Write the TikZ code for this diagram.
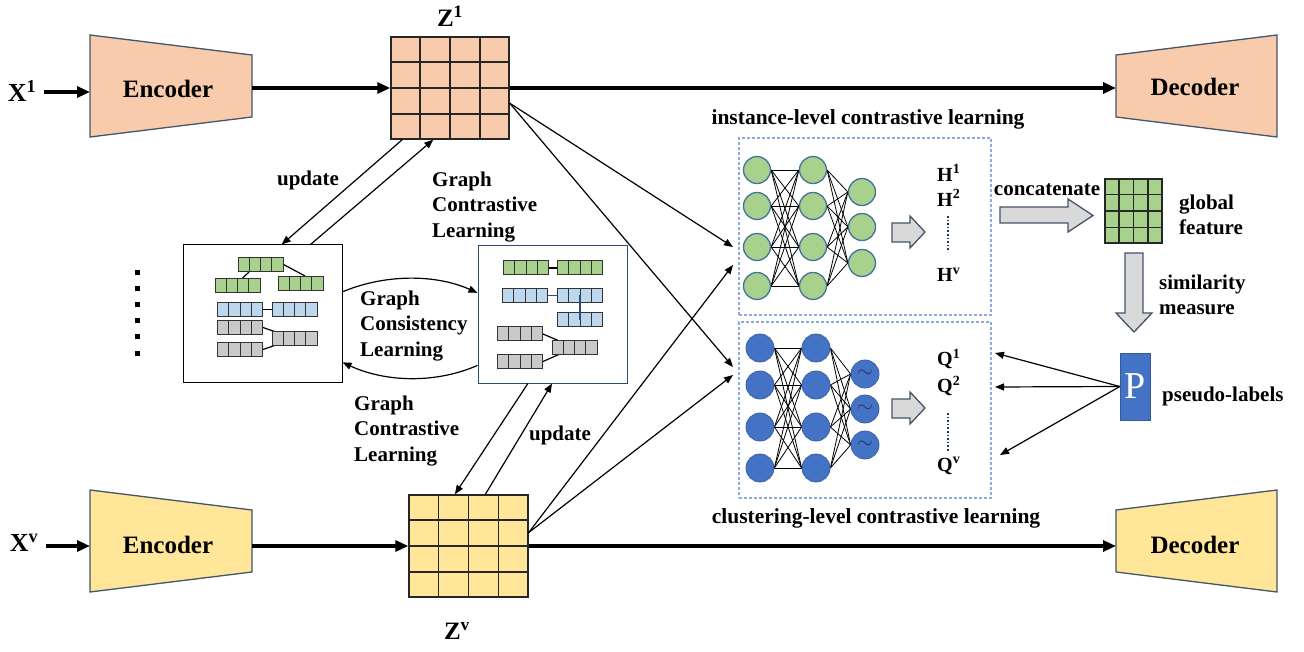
\documentclass[tikz,border=0pt]{standalone}
\usepackage{fontspec}
\setmainfont{Liberation Serif}
\usetikzlibrary{arrows.meta,calc,backgrounds}

\definecolor{peach}{HTML}{F8CBAD}
\definecolor{sand}{HTML}{FFE699}
\definecolor{leaf}{HTML}{A9D18E}
\definecolor{sky}{HTML}{BDD7EE}
\definecolor{ash}{HTML}{C9C9C9}
\definecolor{royal}{HTML}{4472C4}
\definecolor{navy}{HTML}{2F4A7A}
\definecolor{slate}{HTML}{44546A}
\definecolor{dashblue}{HTML}{8FAADC}
\definecolor{arrowgray}{HTML}{D9D9D9}
\definecolor{ringblue}{HTML}{41719C}
\definecolor{inkblue}{HTML}{1F3864}

% grid lines of a 4x4 feature matrix drawn inside a named node
\newcommand\cellgrid[1]{%
  \foreach \i in {1,2,3} {
    \draw[gridline] ($(#1.north west)!\i/4!(#1.north east)$) -- ($(#1.south west)!\i/4!(#1.south east)$);
    \draw[gridline] ($(#1.north west)!\i/4!(#1.south west)$) -- ($(#1.north east)!\i/4!(#1.south east)$);
  }}

\tikzset{
  lbl/.style={font=\bfseries\fontsize{21}{25.5}\selectfont, inner sep=0pt, align=left},
  biglbl/.style={font=\bfseries\fontsize{25}{30}\selectfont, inner sep=0pt},
  hqlbl/.style={font=\bfseries\fontsize{20}{22}\selectfont, inner sep=0pt, anchor=west},
  fatarrow/.style={line width=3.5pt, -{Triangle[length=13pt,width=11pt]}},
  thinarrow/.style={line width=1.2pt, -{Triangle[length=9pt,width=7pt]}},
  coder/.style={draw=slate, line width=1.3pt},
  featgrid/.style={draw=black!85, line width=1.4pt, inner sep=0pt},
  gridline/.style={draw=black!85, line width=1.4pt},
  cellbox/.style={draw=black!80, line width=1pt, inner sep=0pt, minimum width=45pt, minimum height=14pt},
  graphbox/.style={draw, line width=1pt, inner sep=0pt},
  neuG/.style={circle, draw=ringblue, line width=1.3pt, fill=leaf, minimum size=27pt, inner sep=0pt},
  neuB/.style={circle, draw=royal!85!black, line width=0.8pt, fill=royal, minimum size=28pt, inner sep=0pt},
  wire/.style={line width=0.8pt},
  dashbox/.style={draw=dashblue, dash pattern=on 3pt off 2pt, line width=1.2pt, inner sep=0pt},
  blockarrow/.style={draw=slate, fill=arrowgray, line width=1.3pt, line join=miter},
  cellbar/.pic={
    \node[cellbox, fill=#1] (-b) at (0,0) {};
    \foreach \k in {-11.25,0,11.25} \draw[line width=1pt, draw=black!80] (\k,-7) -- (\k,7);
  }
}

\begin{document}
\begin{tikzpicture}[x=1pt,y=-1pt]
\useasboundingbox (0,0) rectangle (1304,652);

% ---------- encoders and decoders ----------
\draw[coder, fill=peach] (90,35) -- (252,55) -- (252,117) -- (90,137) -- cycle;
\draw[coder, fill=peach] (1116,55) -- (1277,35) -- (1277,137) -- (1116,117) -- cycle;
\draw[coder, fill=sand] (90,490) -- (252,510) -- (252,572) -- (90,592) -- cycle;
\draw[coder, fill=sand] (1116,510) -- (1277,490) -- (1277,592) -- (1116,572) -- cycle;
\node[biglbl] (enc1) at (168,89) {Encoder};
\node[biglbl] (dec1) at (1195,87) {Decoder};
\node[biglbl] (enc2) at (168,545) {Encoder};
\node[biglbl] (dec2) at (1195,545) {Decoder};
\coordinate (e1in) at (90,92);
\coordinate (e1out) at (252,88);
\coordinate (d1in) at (1116,88);
\coordinate (e2in) at (90,546);
\coordinate (e2out) at (252,546);
\coordinate (d2in) at (1116,546);

\node[font=\bfseries\fontsize{26}{30}\selectfont, inner sep=0pt] (x1) at (22,91) {X\textsuperscript{1}};
\node[font=\bfseries\fontsize{26}{30}\selectfont, inner sep=0pt] (xv) at (24,543) {X\textsuperscript{v}};

% ---------- latent feature matrices ----------
\node[featgrid, fill=peach, minimum width=118pt, minimum height=102pt] (z1) at (450,88) {};
\cellgrid{z1}
\node[featgrid, fill=sand, minimum width=119pt, minimum height=102pt] (zv) at (468.5,546) {};
\cellgrid{zv}
\node[biglbl] (z1lbl) at (450,16) {Z\textsuperscript{1}};
\node[biglbl] (zvlbl) at (457,631) {Z\textsuperscript{v}};

\draw[fatarrow] (x1.east) ++(8,1) -- (e1in);
\draw[fatarrow] (xv.east) ++(8,3) -- (e2in);
\draw[fatarrow] (e1out) -- (z1.west);
\draw[fatarrow] (z1.east) -- (d1in);
\draw[fatarrow] (e2out) -- (zv.west);
\draw[fatarrow] (zv.east) -- (d2in);

% ---------- view graphs ----------
\node[graphbox, minimum width=159pt, minimum height=137pt] (gA) at (262.5,313.5) {};
\node[graphbox, draw=navy, minimum width=149pt, minimum height=137pt] (gB) at (552.5,314.5) {};

\pic (ga1) at (260.5,264.5) {cellbar=leaf};
\pic (ga2) at (237.5,286) {cellbar=leaf};
\pic (ga3) at (300.5,283.5) {cellbar=leaf};
\pic (ba1) at (240,309.5) {cellbar=sky};
\pic (ba2) at (294.5,309.5) {cellbar=sky};
\pic (ca1) at (240,327.5) {cellbar=ash};
\pic (ca2) at (294.5,338.5) {cellbar=ash};
\pic (ca3) at (240,349.5) {cellbar=ash};

\pic (gb1) at (526,268) {cellbar=leaf};
\pic (gb2) at (580,268) {cellbar=leaf};
\pic (bb1) at (525,295.5) {cellbar=sky};
\pic (bb2) at (580,295.5) {cellbar=sky};
\pic (bb3) at (580,320) {cellbar=sky};
\pic (cb1) at (520,334) {cellbar=ash};
\pic (cb2) at (574.5,347.5) {cellbar=ash};
\pic (cb3) at (520,361.5) {cellbar=ash};
\draw[navy, line width=1.2pt] (bb2-b.center) -- (bb3-b.center);

\begin{scope}[on background layer]
  \draw[line width=1.2pt] ($(ga1-b.south west)!0.25!(ga1-b.south east)$) -- ($(ga2-b.north west)!0.6!(ga2-b.north east)$);
  \draw[line width=1.2pt] (ga1-b.east) -- ($(ga3-b.north west)!0.6!(ga3-b.north east)$);
  \draw[line width=1.2pt] (ba1-b.east) -- (ba2-b.west);
  \draw[line width=1.2pt] (ca1-b.east) -- (ca2-b.center);
  \draw[line width=1.2pt] (ca3-b.east) -- (ca2-b.center);
  \draw[line width=1.2pt] (gb1-b.east) -- (gb2-b.west);
  \draw[navy, line width=1.2pt] (bb1-b.east) -- (bb2-b.west);
  \draw[line width=1.2pt] (cb1-b.east) -- (cb2-b.center);
  \draw[line width=1.2pt] (cb3-b.east) -- (cb2-b.center);
\end{scope}

% further views
\foreach \y in {273,289,305,321,337,353}
  \fill (135,\y-2.5) rectangle (140,\y+2.5);

% graph consistency learning
\draw[thinarrow] ($(gA.north east)!0.343!(gA.south east)$) .. controls (385,274) and (435,274) .. ($(gB.north west)!0.343!(gB.south west)$);
\draw[thinarrow] ($(gB.north west)!0.869!(gB.south west)$) .. controls (435,384) and (385,382) .. ($(gA.north east)!0.854!(gA.south east)$);
\node[lbl, anchor=west] (gcl) at (360,326) {Graph\\Consistency\\Learning};

% updates and graph contrastive learning
\draw[thinarrow] ($(z1.south west)!0.1!(z1.south east)$) -- ($(gA.north west)!0.62!(gA.north east)$);
\draw[thinarrow] ($(gA.north west)!0.8!(gA.north east)$) -- ($(z1.south west)!0.36!(z1.south east)$);
\draw[thinarrow] ($(gB.south west)!0.336!(gB.south east)$) -- ($(zv.north west)!0.387!(zv.north east)$);
\draw[thinarrow] ($(zv.north west)!0.64!(zv.north east)$) -- ($(gB.south west)!0.497!(gB.south east)$);
\node[lbl] (upd1) at (308,180) {update};
\node[lbl] (upd2) at (560,435) {update};
\node[lbl, anchor=west] (gcl1) at (432,207) {Graph\\Contrastive\\Learning};
\node[lbl, anchor=west] (gcl2) at (354,431) {Graph\\Contrastive\\Learning};

% ---------- contrastive heads ----------
\node[dashbox, minimum width=252pt, minimum height=177pt] (inst) at (865,226.5) {};
\node[dashbox, minimum width=252pt, minimum height=176pt] (clus) at (865,410) {};
\node[lbl, font=\bfseries\fontsize{21.5}{24}\selectfont] (insttitle) at (868,119) {instance-level contrastive learning};
\node[lbl, font=\bfseries\fontsize{21.5}{24}\selectfont] (clustitle) at (876,518) {clustering-level contrastive learning};

\foreach \n/\y in {1/170,2/206,3/247,4/286} {
  \node[neuG] (ga\n) at (757,\y) {};
  \node[neuG] (gb\n) at (813,\y) {};
}
\foreach \n/\y in {1/192,2/227,3/263}
  \node[neuG] (gc\n) at (862,\y) {};
\foreach \n/\y in {1/348,2/385,3/427,4/468} {
  \node[neuB] (ba\n) at (760,\y) {};
  \node[neuB] (bb\n) at (816,\y) {};
}
\foreach \n/\y in {1/374,2/409,3/445}
  \node[neuB, text=inkblue, font=\fontsize{20}{20}\selectfont] (bc\n) at (865,\y) {$\sim$};

\begin{scope}[on background layer]
  \foreach \i in {1,...,4} {
    \foreach \j in {1,...,4} {
      \draw[wire] (ga\i.east) -- (gb\j.west);
      \draw[wire] (ba\i.east) -- (bb\j.west);
    }
    \foreach \j in {1,2,3} {
      \draw[wire] (gb\i.east) -- (gc\j.west);
      \draw[wire] (bb\i.east) -- (bc\j.west);
    }
  }
\end{scope}

\draw[blockarrow] (892,223) -- (910,223) -- (910,216) -- (925,232) -- (910,248) -- (910,242) -- (892,242) -- cycle;
\draw[blockarrow] (892,399) -- (910,399) -- (910,392) -- (925,408) -- (910,424) -- (910,418) -- (892,418) -- cycle;

\node[hqlbl] (h1) at (937,173) {H\textsuperscript{1}};
\node[hqlbl] (h2) at (937,198) {H\textsuperscript{2}};
\node[hqlbl] (hv) at (937,275) {H\textsuperscript{v}};
\draw[inkblue, dotted, line width=1.6pt] (948,216) -- (948,252);
\node[hqlbl] (q1) at (937,359) {Q\textsuperscript{1}};
\node[hqlbl] (q2) at (937,386) {Q\textsuperscript{2}};
\node[hqlbl] (qv) at (937,466) {Q\textsuperscript{v}};
\draw[inkblue, dotted, line width=1.6pt] (948,413) -- (948,452);

% fused latent features into both heads
\coordinate (ia) at (733,247);
\coordinate (ib) at (733,367);
\coordinate (ic) at (733,265);
\coordinate (id) at (733,375);
\draw[thinarrow] ($(z1.north east)!0.647!(z1.south east)$) -- (ia);
\draw[thinarrow] ($(z1.north east)!0.647!(z1.south east)$) -- (ib);
\draw[thinarrow] ($(zv.north east)!0.37!(zv.south east)$) -- (ic);
\draw[thinarrow] ($(zv.north east)!0.37!(zv.south east)$) -- (id);

% ---------- global feature and pseudo-labels ----------
\draw[blockarrow] (1000,207) -- (1068,207) -- (1068,199) -- (1093,215.5) -- (1068,232) -- (1068,223) -- (1000,223) -- cycle;
\node[lbl] (concat) at (1047,190) {concatenate};
\node[featgrid, fill=leaf, minimum width=57pt, minimum height=64pt] (gf) at (1133.5,211) {};
\cellgrid{gf}
\node[lbl, anchor=west] (gflbl) at (1179,215) {global\\feature};
\draw[blockarrow] (1125,253) -- (1143,253) -- (1143,313) -- (1152,313) -- (1134,332) -- (1116,313) -- (1125,313) -- cycle;
\node[lbl, anchor=west] (sim) at (1159,295) {similarity\\measure};
\node[fill=royal, draw=royal!80!black, minimum width=30pt, minimum height=67pt, inner sep=0pt, text=white, font=\fontsize{38}{38}\selectfont] (P) at (1135,386.5) {P};
\node[lbl, anchor=west] (pl) at (1162,396) {pseudo-labels};
\coordinate (qa) at (995,353);
\coordinate (qb) at (995,387);
\coordinate (qc) at (1000,455);
\draw[thinarrow] (P.west) -- (qa);
\draw[thinarrow] (P.west) -- (qb);
\draw[thinarrow] (P.west) -- (qc);
\end{tikzpicture}
\end{document}
